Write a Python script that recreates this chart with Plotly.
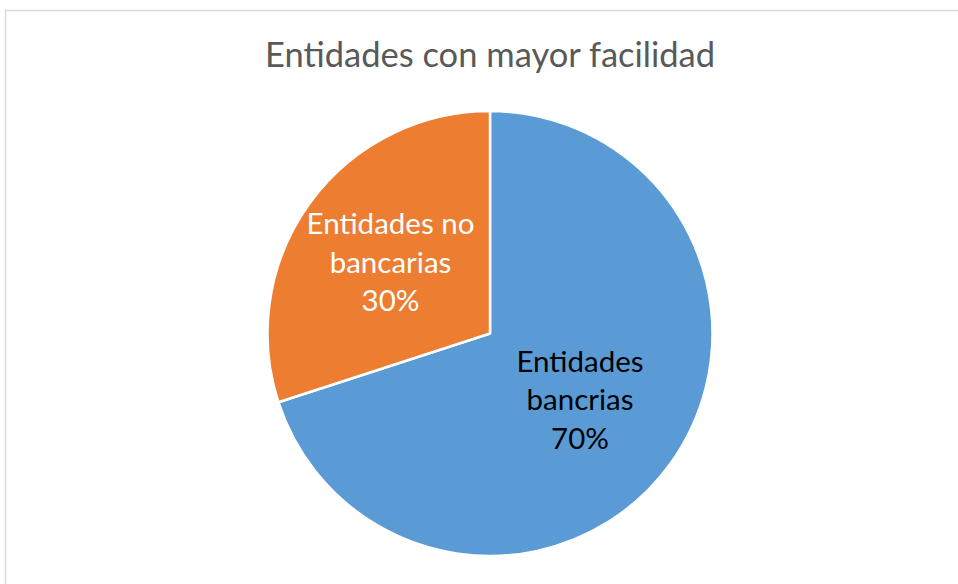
import plotly.graph_objects as go

labels = ["Entidades<br>bancrias", "Entidades no<br>bancarias"]
values = [70, 30]
colors = ["#5B9BD5", "#ED7D31"]
text_colors = ["#000000", "#FFFFFF"]

W, H = 958, 584
cx, cy, r = 490, 333.5, 222.5
FONT = "Lato, Open Sans, Liberation Sans, sans-serif"

fig = go.Figure(go.Pie(
    labels=labels,
    values=values,
    sort=False,
    direction="clockwise",
    rotation=0,
    marker=dict(colors=colors, line=dict(color="white", width=2.5)),
    texttemplate="%{label}<br>%{percent:.0%}",
    textposition="inside",
    insidetextorientation="horizontal",
    textfont=dict(family=FONT, size=29.5, color=text_colors),
    showlegend=False,
    hoverinfo="label+percent",
    domain=dict(x=[(cx - r) / W, (cx + r) / W], y=[1 - (cy + r) / H, 1 - (cy - r) / H]),
))

fig.update_layout(
    width=W, height=H,
    margin=dict(l=0, r=0, t=0, b=0),
    paper_bgcolor="white",
    uniformtext=dict(minsize=29.5, mode="show"),
    title=dict(text="Entidades con mayor facilidad", x=490 / W, xanchor="center",
               y=1 - 55 / H, yanchor="middle",
               font=dict(family=FONT, size=34.5, color="#595959")),
    shapes=[dict(type="rect", xref="paper", yref="paper",
                 x0=5.5 / W, x1=1.02, y0=-0.02, y1=1 - 10.5 / H,
                 line=dict(color="#D9D9D9", width=1.5), fillcolor="rgba(0,0,0,0)", layer="below")],
)

fig.write_html("out.html")
